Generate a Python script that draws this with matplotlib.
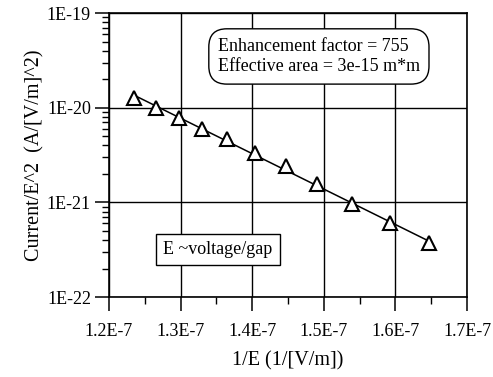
import numpy as np
import matplotlib.pyplot as plt
from matplotlib.ticker import FixedLocator, NullFormatter, LogLocator

plt.rcParams['font.family'] = ['Liberation Serif', 'DejaVu Serif']

# measured points: 1/E (1/[V/m]) and Current/E^2 (A/[V/m]^2)
inv_e = [1.235e-7, 1.266e-7, 1.298e-7, 1.330e-7, 1.365e-7, 1.404e-7,
         1.447e-7, 1.490e-7, 1.539e-7, 1.592e-7, 1.647e-7]
j_over_e2 = [1.25e-20, 0.99e-20, 0.785e-20, 0.60e-20, 0.47e-20, 3.36e-21,
             2.40e-21, 1.55e-21, 0.95e-21, 0.60e-21, 0.37e-21]

x_ticks = [1.2e-7, 1.3e-7, 1.4e-7, 1.5e-7, 1.6e-7, 1.7e-7]
x_tick_labels = ['1.2E-7', '1.3E-7', '1.4E-7', '1.5E-7', '1.6E-7', '1.7E-7']
y_ticks = [1e-22, 1e-21, 1e-20, 1e-19]
y_tick_labels = ['1E-22', '1E-21', '1E-20', '1E-19']

fig = plt.figure(figsize=(4.93, 3.77), dpi=100)
ax = fig.add_axes([0.2211, 0.2122, 0.7262, 0.7533])

# straight-line fit in log space (Fowler-Nordheim style)
coef = np.polyfit(inv_e, np.log10(j_over_e2), 1)
xf = np.array([min(inv_e), max(inv_e)])
ax.plot(xf, 10 ** np.polyval(coef, xf), color='black', lw=1.1, zorder=3)
ax.plot(inv_e, j_over_e2, linestyle='none', marker='^', markersize=10,
        markerfacecolor='white', markeredgecolor='black', markeredgewidth=1.5,
        zorder=4)

ax.set_yscale('log')
ax.set_xlim(1.2e-7, 1.7e-7)
ax.set_ylim(1e-22, 1e-19)

ax.set_xticks(x_ticks)
ax.set_xticklabels(x_tick_labels)
ax.xaxis.set_minor_locator(FixedLocator([1.25e-7, 1.35e-7, 1.45e-7, 1.55e-7, 1.65e-7]))
ax.set_yticks(y_ticks)
ax.set_yticklabels(y_tick_labels)
ax.yaxis.set_minor_locator(LogLocator(base=10, subs=np.arange(2, 10)))
ax.yaxis.set_minor_formatter(NullFormatter())

ax.tick_params(which='major', direction='out', length=10, width=1.1,
               labelsize=13, color='black')
ax.tick_params(which='minor', direction='out', length=5, width=1.0)
ax.tick_params(axis='x', pad=9)
ax.tick_params(axis='y', pad=3)

ax.grid(True, which='major', color='black', linewidth=1.0)
for s in ax.spines.values():
    s.set_linewidth(1.2)

ax.set_xlabel('1/E (1/[V/m])', fontsize=14.5, labelpad=8)
ax.set_ylabel('Current/E^2  (A/[V/m]^2)', fontsize=14.5, labelpad=2)

ax.text(0.304, 0.847, 'Enhancement factor = 755\nEffective area = 3e-15 m*m',
        transform=ax.transAxes, fontsize=13, va='center', ha='left',
        linespacing=1.25,
        bbox=dict(boxstyle='round,pad=0.5,rounding_size=1.0',
                  facecolor='white', edgecolor='black', linewidth=1.0))
ax.text(0.151, 0.167, 'E ~voltage/gap', transform=ax.transAxes,
        fontsize=13, va='center', ha='left',
        bbox=dict(boxstyle='square,pad=0.4', facecolor='white',
                  edgecolor='black', linewidth=1.0))

fig.savefig('out.png', dpi=100)
